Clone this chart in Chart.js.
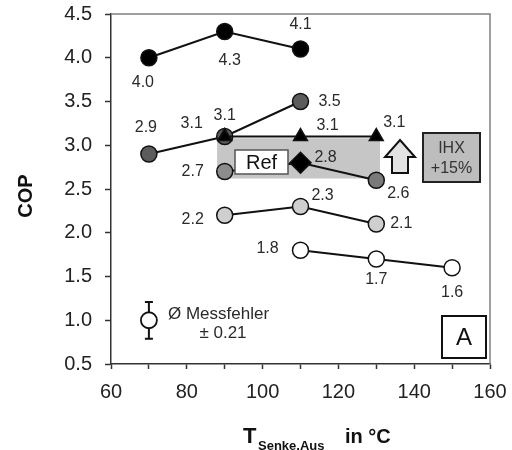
<!DOCTYPE html>
<html>
<head>
<meta charset="utf-8">
<script src="https://cdn.jsdelivr.net/npm/chart.js@4/dist/chart.umd.min.js"></script>
<style>
  html, body { margin: 0; padding: 0; background: #fff; }
  #c { display: block; }
</style>
</head>
<body>
<canvas id="c" width="512" height="450"></canvas>
<script>
// COP over sink outlet temperature, measured series
const tempsHigh = [70, 90, 110];
const copHigh   = [4.0, 4.3, 4.1];

const tempsMid  = [70, 90, 110];
const copMid    = [2.9, 3.1, 3.5];

const tempsIhx  = [90, 110, 130];
const copIhx    = [3.1, 3.1, 3.1];

const tempsRef  = [90, 110, 130];
const copRef    = [2.7, 2.8, 2.6];

const tempsLow  = [90, 110, 130];
const copLow    = [2.2, 2.3, 2.1];

const tempsHot  = [110, 130, 150];
const copHot    = [1.8, 1.7, 1.6];

// shaded gain region between reference and IHX runs
const bandTemps = [88, 131];
const bandCop   = [2.62, 3.08];

// mean measurement error marker
const errTemp = 70;
const errCop  = 1.0;
const errHalf = 0.21;

const xTicks = { min: 60, max: 160, step: 10, labelStep: 20 };
const yTicks = { min: 0.5, max: 4.5, step: 0.5 };

const FONT = '"Liberation Sans", Arial, sans-serif';
const TXT = '#2a2a2a';

const pts = (xs, ys) => xs.map((x, i) => ({ x, y: ys[i] }));

// label offsets (px) relative to each point, per dataset
const labelOffsets = {
  high: [[-6, 25], [5, 29], [0, -24]],
  mid:  [[-3, -26], [-33, -13], [29, 0]],
  ihx:  [[0, -21], [27, -11], [18, -14]],
  ref:  [[-32, 0], [25, -5], [22, 13]],
  low:  [[-32, 4], [22, -11], [25, 0]],
  hot:  [[-33, -2], [0, 21], [0, 25]]
};

const lineBase = { showLine: true, borderColor: '#111', borderWidth: 2, pointBorderColor: '#111', pointBorderWidth: 1.5, pointRadius: 8, pointHoverRadius: 8, fill: false, tension: 0 };

const datasets = [
  Object.assign({}, lineBase, { key: 'ihx', data: pts(tempsIhx, copIhx), pointStyle: 'triangle', pointRadius: 8, pointBackgroundColor: '#000', order: 1 }),
  Object.assign({}, lineBase, { key: 'ref', data: pts(tempsRef, copRef), pointStyle: ['circle', 'rectRot', 'circle'], pointRadius: [8, 10.5, 8], pointBackgroundColor: ['#8c8c8c', '#000', '#7a7a7a'], order: 2 }),
  Object.assign({}, lineBase, { key: 'high', data: pts(tempsHigh, copHigh), pointBackgroundColor: '#000', order: 3 }),
  Object.assign({}, lineBase, { key: 'mid', data: pts(tempsMid, copMid), pointBackgroundColor: '#5c5c5c', order: 4 }),
  Object.assign({}, lineBase, { key: 'low', data: pts(tempsLow, copLow), pointBackgroundColor: '#cfcfcf', order: 5 }),
  Object.assign({}, lineBase, { key: 'hot', data: pts(tempsHot, copHot), pointBackgroundColor: '#ffffff', order: 6 }),
  { key: 'band', data: pts(bandTemps, [bandCop[1], bandCop[1]]), showLine: true, borderWidth: 0, pointRadius: 0, backgroundColor: '#c6c6c6', fill: { value: bandCop[0] }, order: 10 }
];

const annotations = {
  id: 'annotations',
  afterDatasetsDraw(chart) {
    const ctx = chart.ctx;
    const a = chart.chartArea;
    const xs = chart.scales.x, ys = chart.scales.y;
    ctx.save();

    // top and right frame
    ctx.strokeStyle = '#808080';
    ctx.lineWidth = 1.5;
    ctx.beginPath();
    ctx.moveTo(a.left, a.top);
    ctx.lineTo(a.right, a.top);
    ctx.lineTo(a.right, a.bottom);
    ctx.stroke();

    // value labels
    ctx.font = '16px ' + FONT;
    ctx.fillStyle = TXT;
    ctx.textAlign = 'center';
    ctx.textBaseline = 'middle';
    chart.data.datasets.forEach((ds, di) => {
      const offs = labelOffsets[ds.key];
      if (!offs) return;
      const meta = chart.getDatasetMeta(di);
      meta.data.forEach((el, i) => {
        const v = ds.data[i].y;
        ctx.fillText(v.toFixed(1), el.x + offs[i][0], el.y + offs[i][1]);
      });
    });

    // "Ref" box
    ctx.fillStyle = '#fff';
    ctx.strokeStyle = '#555';
    ctx.lineWidth = 1.5;
    ctx.fillRect(235, 150, 53, 24);
    ctx.strokeRect(235, 150, 53, 24);
    ctx.fillStyle = '#111';
    ctx.font = '20px ' + FONT;
    ctx.fillText('Ref', 261.5, 163);

    // up arrow
    ctx.beginPath();
    ctx.moveTo(400, 140);
    ctx.lineTo(415, 157);
    ctx.lineTo(408, 157);
    ctx.lineTo(408, 173);
    ctx.lineTo(392, 173);
    ctx.lineTo(392, 157);
    ctx.lineTo(385, 157);
    ctx.closePath();
    ctx.fillStyle = '#e2e2e2';
    ctx.fill();
    ctx.strokeStyle = '#111';
    ctx.lineWidth = 2;
    ctx.stroke();

    // IHX box
    ctx.fillStyle = '#bdbdbd';
    ctx.fillRect(423, 133, 57, 49);
    ctx.strokeStyle = '#222';
    ctx.lineWidth = 2;
    ctx.strokeRect(423, 133, 57, 49);
    ctx.fillStyle = '#333';
    ctx.font = '16px ' + FONT;
    ctx.fillText('IHX', 451.5, 149);
    ctx.fillText('+15%', 451.5, 169);

    // panel letter
    ctx.fillStyle = '#fff';
    ctx.fillRect(442, 316, 44, 42);
    ctx.strokeStyle = '#111';
    ctx.strokeRect(442, 316, 44, 42);
    ctx.fillStyle = '#111';
    ctx.font = '24px ' + FONT;
    ctx.fillText('A', 464, 338);

    // measurement error marker
    const ex = xs.getPixelForValue(errTemp);
    const ey = ys.getPixelForValue(errCop);
    const eTop = ys.getPixelForValue(errCop + errHalf);
    const eBot = ys.getPixelForValue(errCop - errHalf);
    ctx.strokeStyle = '#111';
    ctx.lineWidth = 2;
    ctx.beginPath();
    ctx.moveTo(ex, eTop); ctx.lineTo(ex, eBot);
    ctx.moveTo(ex - 4, eTop); ctx.lineTo(ex + 4, eTop);
    ctx.moveTo(ex - 4, eBot); ctx.lineTo(ex + 4, eBot);
    ctx.stroke();
    ctx.beginPath();
    ctx.arc(ex, ey, 8, 0, Math.PI * 2);
    ctx.fillStyle = '#fff';
    ctx.fill();
    ctx.lineWidth = 1.8;
    ctx.stroke();
    ctx.fillStyle = TXT;
    ctx.font = '17px ' + FONT;
    ctx.textAlign = 'left';
    ctx.fillText('\u00D8 Messfehler', 168, 314);
    ctx.textAlign = 'center';
    ctx.fillText('\u00B1 0.21', 223, 333);

    // axis titles
    ctx.fillStyle = '#111';
    ctx.font = 'bold 20px ' + FONT;
    ctx.save();
    ctx.translate(26, 196);
    ctx.rotate(-Math.PI / 2);
    ctx.fillText('COP', 0, 0);
    ctx.restore();

    ctx.textAlign = 'left';
    ctx.font = 'bold 22px ' + FONT;
    ctx.fillText('T', 243, 437);
    ctx.font = 'bold 13px ' + FONT;
    ctx.fillText('Senke,Aus', 258, 446);
    ctx.font = 'bold 20px ' + FONT;
    ctx.fillText('in \u00B0C', 345, 437);

    ctx.restore();
  }
};

new Chart(document.getElementById('c'), {
  type: 'scatter',
  data: { datasets },
  options: {
    responsive: false,
    animation: false,
    devicePixelRatio: 1,
    layout: { padding: { top: 14, right: 22, left: 0, bottom: 0 } },
    plugins: { legend: { display: false }, tooltip: { enabled: false } },
    scales: {
      x: {
        type: 'linear',
        min: xTicks.min, max: xTicks.max,
        afterFit(s) { s.height = 86; s.paddingLeft = 0; s.paddingRight = 0; },
        border: { display: true, color: '#333', width: 1.5 },
        grid: { display: true, drawOnChartArea: false, color: '#333', tickLength: 5, tickWidth: 1.5 },
        ticks: {
          stepSize: xTicks.step,
          padding: 11,
          color: '#222',
          font: { family: FONT, size: 20 },
          maxRotation: 0,
          autoSkip: false,
          callback: v => (v % xTicks.labelStep === 0 ? String(v) : '')
        }
      },
      y: {
        type: 'linear',
        min: yTicks.min, max: yTicks.max,
        afterFit(s) { s.width = 111; s.paddingTop = 0; s.paddingBottom = 0; },
        border: { display: true, color: '#333', width: 1.5 },
        grid: { display: true, drawOnChartArea: false, color: '#333', tickLength: 6, tickWidth: 1.5 },
        ticks: {
          stepSize: yTicks.step,
          padding: 13,
          color: '#222',
          font: { family: FONT, size: 20 },
          callback: v => v.toFixed(1)
        }
      }
    }
  },
  plugins: [annotations]
});
</script>
</body>
</html>
